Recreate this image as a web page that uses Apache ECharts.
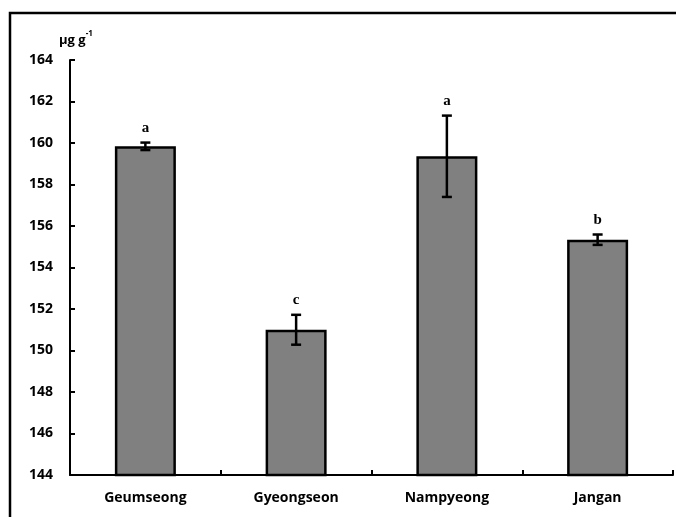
<!DOCTYPE html>
<html>
<head>
<meta charset="utf-8">
<script src="https://cdn.jsdelivr.net/npm/echarts@6/dist/echarts.min.js"></script>
<style>
  html, body { margin: 0; padding: 0; background: #fff; }
  #chart { width: 676px; height: 517px; }
</style>
</head>
<body>
<div id="chart"></div>
<script>
// Cultivars and their measured means (µg g-1)
const categories = ['Geumseong', 'Gyeongseon', 'Nampyeong', 'Jangan'];
const means = [159.84, 151.0, 159.36, 155.34];
const errors = [0.18, 0.72, 1.96, 0.25];
const letters = ['a', 'c', 'a', 'b'];

const yMin = 144, yMax = 164, yStep = 2;

const chart = echarts.init(document.getElementById('chart'));

const errData = categories.map((c, i) => [i, means[i] - errors[i], means[i] + errors[i], letters[i]]);

chart.setOption({
  animation: false,
  grid: { left: 70, top: 60, right: 3, bottom: 42 },
  graphic: [{
    type: 'rect',
    shape: { x: 10, y: 13, width: 700, height: 540 },
    style: { fill: 'none', stroke: '#000', lineWidth: 2.5 },
    silent: true
  }, {
    type: 'text',
    left: 59, top: 30,
    style: {
      text: '{m|µg g}{s|-1}',
      rich: {
        m: { fontFamily: 'Open Sans', fontWeight: 'bold', fontSize: 13, fill: '#000', verticalAlign: 'bottom' },
        s: { fontFamily: 'Open Sans', fontWeight: 'bold', fontSize: 8, fill: '#000', verticalAlign: 'top', padding: [0, 0, 9, 0] }
      }
    }
  }],
  xAxis: {
    type: 'category',
    data: categories,
    axisLine: { lineStyle: { color: '#000', width: 2 } },
    axisTick: { show: true, inside: true, length: 5, lineStyle: { color: '#000', width: 2 } },
    axisLabel: { color: '#000', fontFamily: 'Open Sans', fontWeight: 'bold', fontSize: 14, margin: 16 },
    splitLine: { show: false }
  },
  yAxis: {
    type: 'value',
    min: yMin, max: yMax, interval: yStep,
    axisLine: { show: true, lineStyle: { color: '#000', width: 2 } },
    axisTick: { show: true, inside: true, length: 5, lineStyle: { color: '#000', width: 2 } },
    axisLabel: { color: '#000', fontFamily: 'Open Sans', fontWeight: 'bold', fontSize: 14, margin: 17 },
    splitLine: { show: false }
  },
  series: [{
    type: 'bar',
    data: means,
    barWidth: 61,
    itemStyle: { color: '#808080', borderColor: '#000', borderWidth: 2.5 }
  }, {
    type: 'custom',
    data: errData,
    z: 10,
    renderItem: function (params, api) {
      const x = api.coord([api.value(0), api.value(1)])[0];
      const lo = api.coord([api.value(0), api.value(1)])[1];
      const hi = api.coord([api.value(0), api.value(2)])[1];
      const hw = 5;
      const st = { stroke: '#000', lineWidth: 2.5 };
      return {
        type: 'group',
        children: [
          { type: 'line', shape: { x1: x, y1: lo, x2: x, y2: hi }, style: st },
          { type: 'line', shape: { x1: x - hw, y1: lo, x2: x + hw, y2: lo }, style: st },
          { type: 'line', shape: { x1: x - hw, y1: hi, x2: x + hw, y2: hi }, style: st },
          {
            type: 'text',
            x: x, y: hi - 7,
            style: {
              text: api.value(3),
              fontFamily: 'Liberation Serif', fontWeight: 'bold', fontSize: 15,
              fill: '#000', align: 'center', verticalAlign: 'bottom'
            }
          }
        ]
      };
    }
  }]
});
</script>
</body>
</html>
